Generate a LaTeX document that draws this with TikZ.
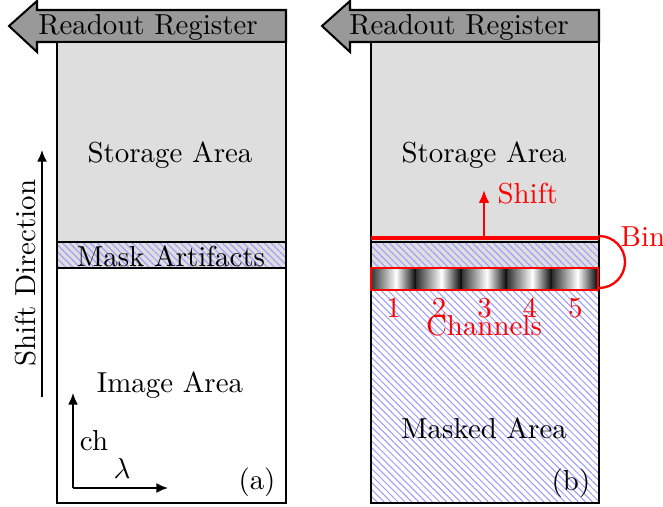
\documentclass[tikz,border=0pt]{standalone}
\usetikzlibrary{arrows.meta,patterns.meta}
\definecolor{storegray}{gray}{0.87}
\definecolor{regray}{gray}{0.6}
\definecolor{hatchblue}{rgb}{0.6,0.6,1}
\tikzset{
  frame/.style={draw=black,line width=0.7pt},
  hatched/.style={pattern={Lines[angle=-45,distance=1.7pt,line width=0.35pt]},pattern color=hatchblue},
  register/.style={draw=black,line width=0.7pt,fill=regray},
  lbl/.style={font=\normalsize,inner sep=0pt},
  redlbl/.style={lbl,text=red},
  axisarrow/.style={-{Latex[length=4pt,width=3.4pt]},line width=0.6pt},
  shiftarrow/.style={-{Latex[length=4.5pt,width=3.8pt]},line width=0.8pt,red},
}
\begin{document}
\begin{tikzpicture}[x=0.346pt,y=-0.346pt]
\useasboundingbox (0,0) rectangle (663,507);

% ---------------- panel (a) ----------------
\draw[register] (286,10) -- (37,10) -- (37,1) -- (9,26) -- (37,52) -- (37,42) -- (286,42) -- cycle;
\node[lbl] (regA) at (148,27) {Readout Register};
\fill[storegray] (57,42) rectangle (286,268);
\fill[hatched] (57,242) rectangle (286,268);
\draw[frame] (57,242) -- (286,242) (57,268) -- (286,268);
\draw[frame] (57,42) rectangle (286,503);
\node[lbl] (storeA) at (170,155) {Storage Area};
\node[lbl] (mask) at (171,256) {Mask Artifacts};
\node[lbl] (imgA) at (170,385) {Image Area};
\node[lbl] (tagA) at (257,482) {(a)};

% shift direction
\coordinate (sdBot) at (42,397);
\coordinate (sdTop) at (42,150);
\draw[axisarrow] (sdBot) -- (sdTop);
\node[lbl,rotate=90] (sdir) at (26,273) {Shift Direction};

% axes
\coordinate (orig) at (73,488);
\coordinate (chEnd) at (73,393);
\coordinate (lamEnd) at (168,488);
\draw[axisarrow] (orig) -- (chEnd);
\draw[axisarrow] (orig) -- (lamEnd);
\node[lbl] (ch) at (94,441) {ch};
\node[lbl] (lam) at (122,468) {$\lambda$};

% ---------------- panel (b) ----------------
\draw[register] (599,10) -- (350,10) -- (350,1) -- (322,26) -- (350,52) -- (350,42) -- (599,42) -- cycle;
\node[lbl] (regB) at (459,27) {Readout Register};
\fill[storegray] (371,42) rectangle (599,268);
\fill[hatched] (371,242) rectangle (599,503);
\draw[frame] (371,242) -- (599,242);
\draw[frame] (371,42) rectangle (599,503);
\node[lbl] (storeB) at (484,155) {Storage Area};
\node[lbl] (maskedB) at (484,428) {Masked Area};
\node[lbl] (tagB) at (571,483) {(b)};

% channel strip
\foreach \i in {0,...,4}{
  \pgfmathsetmacro{\xa}{371+45.4*\i}
  \pgfmathsetmacro{\xm}{371+45.4*\i+25}
  \pgfmathsetmacro{\xb}{371+45.4*(\i+1)}
  \shade[left color=black!80,right color=white] (\xa,268) rectangle (\xm,290);
  \shade[left color=white,right color=black] (\xm,268) rectangle (\xb,290);
}
\draw[red,line width=0.75pt] (371,268) rectangle (598,290);
\foreach \n [count=\k from 0] in {1,...,5}
  \node[redlbl] (ch\n) at (393.7+45.4*\k,308) {\n};
\node[redlbl] (chans) at (484,326) {Channels};

% readout line, shift arrow and bin bracket
\draw[red,line width=1.3pt] (371,238) -- (599,238);
\coordinate (shBot) at (484,238);
\coordinate (shTop) at (484,190);
\draw[shiftarrow] (shBot) -- (shTop);
\node[redlbl,anchor=west] (shift) at (497,194) {Shift};
\coordinate (binTop) at (599,236);
\draw[red,line width=0.8pt] (binTop) arc[start angle=-90,end angle=90,radius=26];
\node[redlbl,anchor=west] (bin) at (620,237) {Bin};
\end{tikzpicture}
\end{document}
